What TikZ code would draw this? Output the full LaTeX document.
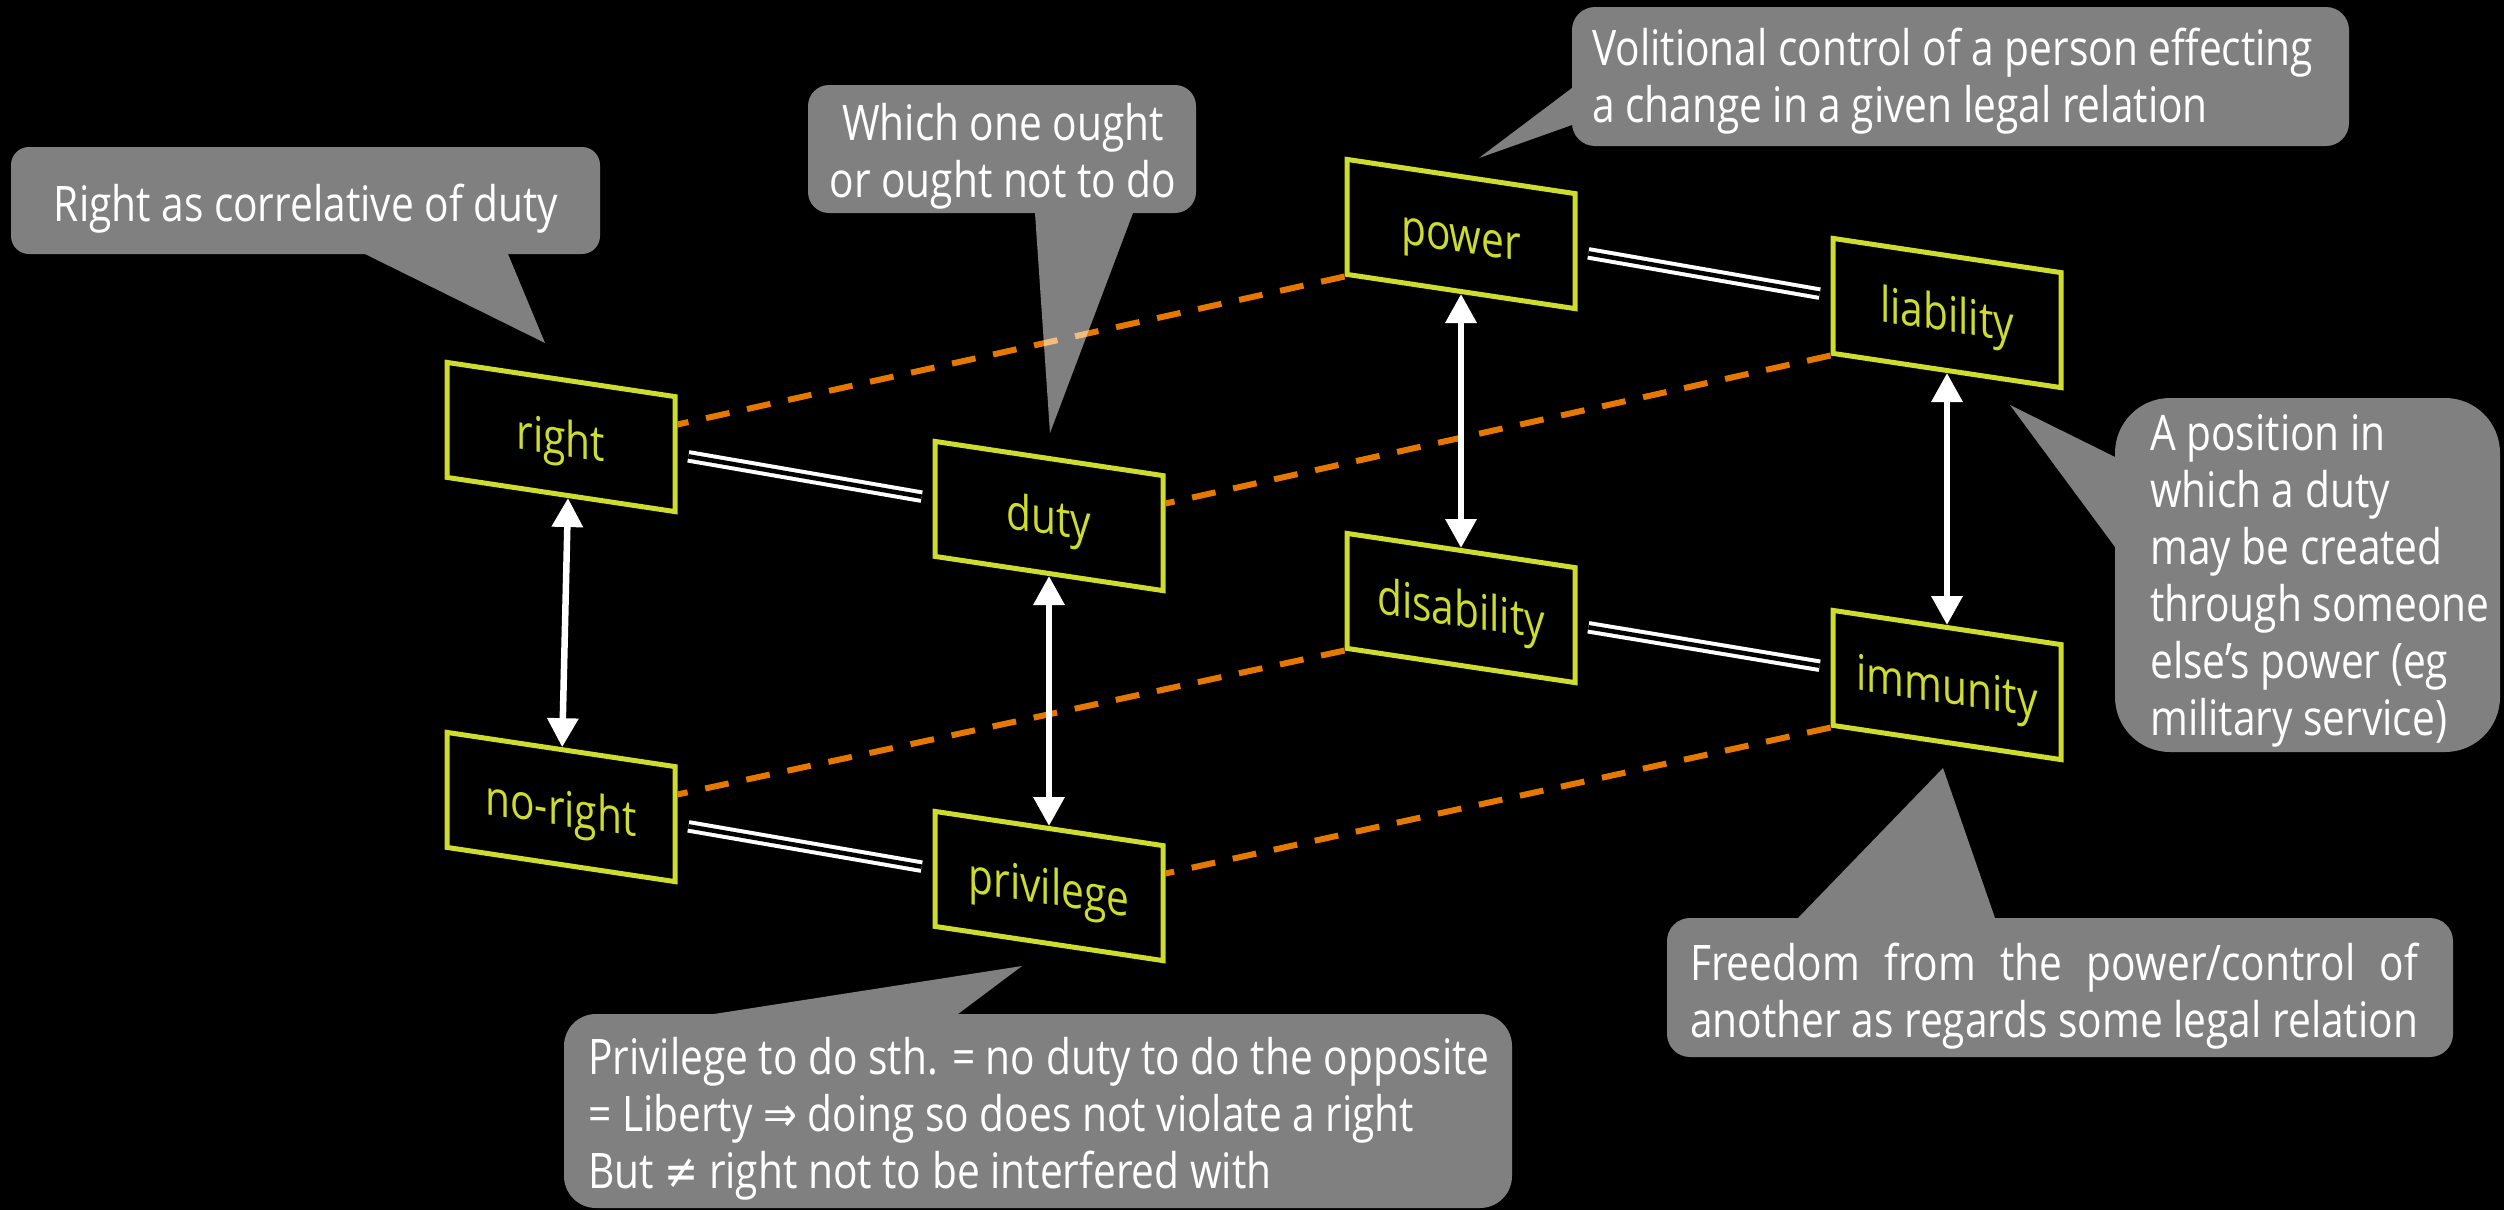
\documentclass[tikz,border=0pt]{standalone}
\usepackage{fontspec}
\setmainfont{Open Sans}[FakeStretch=0.83]
\newfontfamily\symfont{DejaVu Sans}[FakeStretch=0.83]
\usetikzlibrary{arrows.meta,calc}
\definecolor{boxyellow}{RGB}{205,220,45}
\definecolor{dashorange}{RGB}{230,120,0}
\newcommand\calfont{\fontsize{49pt}{57pt}\selectfont}
\newsavebox\freebox
\begin{document}
\begin{tikzpicture}[x=1pt,y=-1pt,
  box/.style={draw=boxyellow, line width=5pt, fill=black, text=boxyellow, font=\calfont,
    minimum width=228pt, minimum height=115pt, inner sep=0pt, text height=37pt, text depth=0pt,
    yslant=-0.15},
  odash/.style={draw=dashorange, line width=6pt, dash pattern=on 24pt off 18pt},
  warrow/.style={draw=white, line width=6.5pt,
    {Triangle[width=30pt,length=29pt]}-{Triangle[width=30pt,length=29pt]}},
  dline/.style={draw=white, line width=4pt, double=black, double distance=4.5pt,
    shorten <=11pt, shorten >=11pt},
  bubble/.style={fill=white, inner sep=0pt},
  btext/.style={text=white, font=\calfont, inner sep=0pt}]
\fill[black] (0,0) rectangle (2504,1210);
\useasboundingbox (0,0) rectangle (2504,1210);

% boxes
\node[box] (right) at (561,437) {right};
\node[box] (duty) at (1049,516) {duty};
\node[box] (noright) at (561,807) {no-right};
\node[box] (privilege) at (1049,886) {privilege};
\node[box] (power) at (1461,234) {power};
\node[box] (liability) at (1947,313) {liability};
\node[box] (disability) at (1461,608) {disability};
\node[box] (immunity) at (1947,685) {immunity};

% orange dashed connectors
\draw[odash] (power.south west) -- ($(right.north east)!0.25!(right.south east)$);
\draw[odash] (liability.south west) -- ($(duty.north east)!0.25!(duty.south east)$);
\draw[odash] (disability.south west) -- ($(noright.north east)!0.25!(noright.south east)$);
\draw[odash] (immunity.south west) -- ($(privilege.north east)!0.25!(privilege.south east)$);

% white arrows
\draw[warrow] ($(right.south)!0.06!(right.south east)$) -- ($(noright.north)!0.01!(noright.north east)$);
\draw[warrow] (duty.south) -- (privilege.north);
\draw[warrow] (power.south) -- (disability.north);
\draw[warrow] (liability.south) -- (immunity.north);

% double lines
\draw[dline] (right.east) -- (duty.west);
\draw[dline] (noright.east) -- (privilege.west);
\draw[dline] (power.east) -- (liability.west);
\draw[dline] (disability.east) -- (immunity.west);

% callout shapes
\begin{scope}[transparency group, opacity=0.5]
  \node[bubble, minimum width=589pt, minimum height=107pt, rounded corners=18pt] (b1) at (305.5,200.5) {};
  \coordinate (tip1) at (545,343);
  \fill[white] (365,254) -- (tip1) -- (508,254) -- cycle;
\end{scope}
\begin{scope}[transparency group, opacity=0.5]
  \node[bubble, minimum width=388pt, minimum height=128pt, rounded corners=21pt] (b2) at (1002,149) {};
  \coordinate (tip2) at (1050,433);
  \fill[white] (1035,213) -- (tip2) -- (1133,213) -- cycle;
\end{scope}
\begin{scope}[transparency group, opacity=0.5]
  \node[bubble, minimum width=777pt, minimum height=139pt, rounded corners=23pt] (b3) at (1960.5,76.5) {};
  \coordinate (tip3) at (1479,158);
  \fill[white] (1572,88) -- (tip3) -- (1572,125) -- cycle;
\end{scope}
\begin{scope}[transparency group, opacity=0.5]
  \node[bubble, minimum width=385pt, minimum height=354pt, rounded corners=55pt] (b4) at (2307.5,575) {};
  \coordinate (tip4) at (2010,405);
  \fill[white] (2115,457) -- (tip4) -- (2115,547) -- cycle;
\end{scope}
\begin{scope}[transparency group, opacity=0.5]
  \node[bubble, minimum width=786pt, minimum height=139pt, rounded corners=23pt] (b5) at (2060,987.5) {};
  \coordinate (tip5) at (1943,768);
  \fill[white] (1798,918) -- (tip5) -- (1995,918) -- cycle;
\end{scope}
\begin{scope}[transparency group, opacity=0.5]
  \node[bubble, minimum width=948pt, minimum height=194pt, rounded corners=32pt] (b6) at (1038,1111) {};
  \coordinate (tip6) at (1022,966);
  \fill[white] (714,1014) -- (tip6) -- (958,1014) -- cycle;
\end{scope}

% callout texts
\node[btext, anchor=base] (t1) at (306,221) {Right as correlative of duty};
\node[btext, anchor=base] (t2) at (1003,140)
  {\begin{tabular}[t]{@{}c@{}}Which one ought\\or ought not to do\end{tabular}};
\node[btext, anchor=base west] (t3) at (1592,65)
  {\begin{tabular}[t]{@{}l@{}}Volitional control of a person effecting\\a change in a given legal relation\end{tabular}};
\node[btext, anchor=base west] (t4) at (2150,450)
  {\begin{tabular}[t]{@{}l@{}}A position in\\which a duty\\may be created\\through someone\\else’s power (eg\\military service)\end{tabular}};
\node[btext, anchor=base west] (t5) at (1690,980)
  {\begin{tabular}[t]{@{}l@{}}\global\setbox\freebox\hbox{another as regards some legal relation}\makebox[\wd\freebox][s]{Freedom from the power/control of}\\\usebox\freebox\end{tabular}};
\node[btext, anchor=base west] (t6) at (588,1074)
  {\begin{tabular}[t]{@{}l@{}}Privilege to do sth. = no duty to do the opposite\\= Liberty {\symfont ⇒} doing so does not violate a right\\But {\symfont ≠} right not to be interfered with\end{tabular}};
\end{tikzpicture}
\end{document}
